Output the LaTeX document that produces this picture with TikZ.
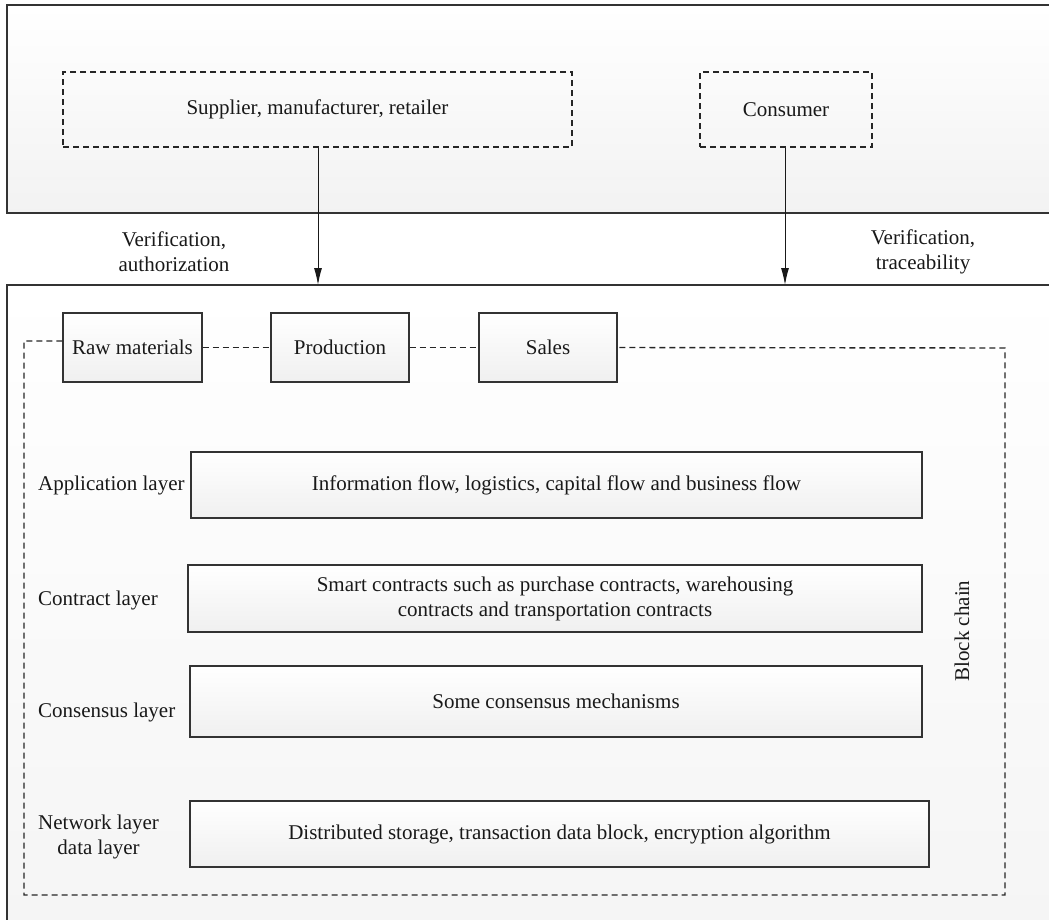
\documentclass[tikz,border=0pt]{standalone}
\usepackage{fontspec}
\setmainfont{Liberation Serif}
\usetikzlibrary{arrows.meta}
\begin{document}
\begin{tikzpicture}[x=1pt,y=-1pt,
  font=\fontsize{21}{25}\selectfont,
  every node/.style={text=black!90},
  frame/.style={draw=black!80, line width=1.3pt, inner sep=0pt},
  solidbox/.style={draw=black!80, line width=1.2pt, inner sep=0pt, top color=white, bottom color=black!6},
  dashbox/.style={draw=black!85, line width=1.4pt, inner sep=0pt, dash pattern=on 6pt off 4pt},
  dashline/.style={draw=black!85, line width=1.4pt, dash pattern=on 6pt off 4pt},
  arr/.style={draw=black!90, line width=1pt, -{Latex[length=17pt,width=8pt]}},
  layerlabel/.style={anchor=west, align=center, inner sep=0pt},
]
\clip (0,0) rectangle (1049,919);
\fill[white] (0,0) rectangle (1049,919);

% outer frames
\node[frame, top color=white, bottom color=black!5, minimum width=1063pt, minimum height=208pt] (topframe) at (538.5,109) {};
\node[frame, top color=white, bottom color=black!4, minimum width=1063pt, minimum height=655pt] (botframe) at (538.5,612.5) {};

% actors
\node[dashbox, minimum width=509pt, minimum height=75pt] (supplier) at (317.5,109.5) {Supplier, manufacturer, retailer};
\node[dashbox, minimum width=172pt, minimum height=75pt] (consumer) at (786,109.5) {Consumer};

% arrows
\coordinate (a1) at (318,285);
\coordinate (a2) at (785,285);
\draw[arr] (supplier.south -| a1) -- (a1);
\draw[arr] (consumer.south -| a2) -- (a2);

\node[align=center] (lab1) at (174,252) {Verification,\\authorization};
\node[align=center] (lab2) at (923,252) {Verification,\\traceability};

% process chain
\node[solidbox, minimum width=139pt, minimum height=69pt] (raw) at (132.5,347.5) {Raw materials};
\node[solidbox, minimum width=138pt, minimum height=69pt] (prod) at (340,347.5) {Production};
\node[solidbox, minimum width=138pt, minimum height=69pt] (sales) at (548,347.5) {Sales};

\draw[dashline] (raw.east) -- (prod.west);
\draw[dashline] (prod.east) -- (sales.west);

\coordinate (lt) at (24,341);
\coordinate (lb) at (24,895);
\coordinate (rb) at (1005,895);
\coordinate (rt) at (1005,348);
\draw[dashline] (raw.west |- lt) -- (lt) -- (lb) -- (rb) -- (rt) -- (sales.east);

% layers
\node[solidbox, minimum width=731pt, minimum height=66pt] (info) at (556.5,485) {Information flow, logistics, capital flow and business flow};
\node[solidbox, minimum width=734pt, minimum height=67pt, align=center] (contract) at (555,598.5) {Smart contracts such as purchase contracts, warehousing\\contracts and transportation contracts};
\node[solidbox, minimum width=732pt, minimum height=71pt] (consensus) at (556,701.5) {Some consensus mechanisms};
\node[solidbox, minimum width=739pt, minimum height=66pt] (network) at (559.5,834) {Distributed storage, transaction data block, encryption algorithm};

\node[layerlabel] (lapp) at (38,485) {Application layer};
\node[layerlabel] (lcon) at (38,600) {Contract layer};
\node[layerlabel] (lcons) at (38,712) {Consensus layer};
\node[layerlabel] (lnet) at (38,837) {Network layer\\data layer};

\node[rotate=90] (bc) at (962,631) {Block chain};
\end{tikzpicture}
\end{document}
